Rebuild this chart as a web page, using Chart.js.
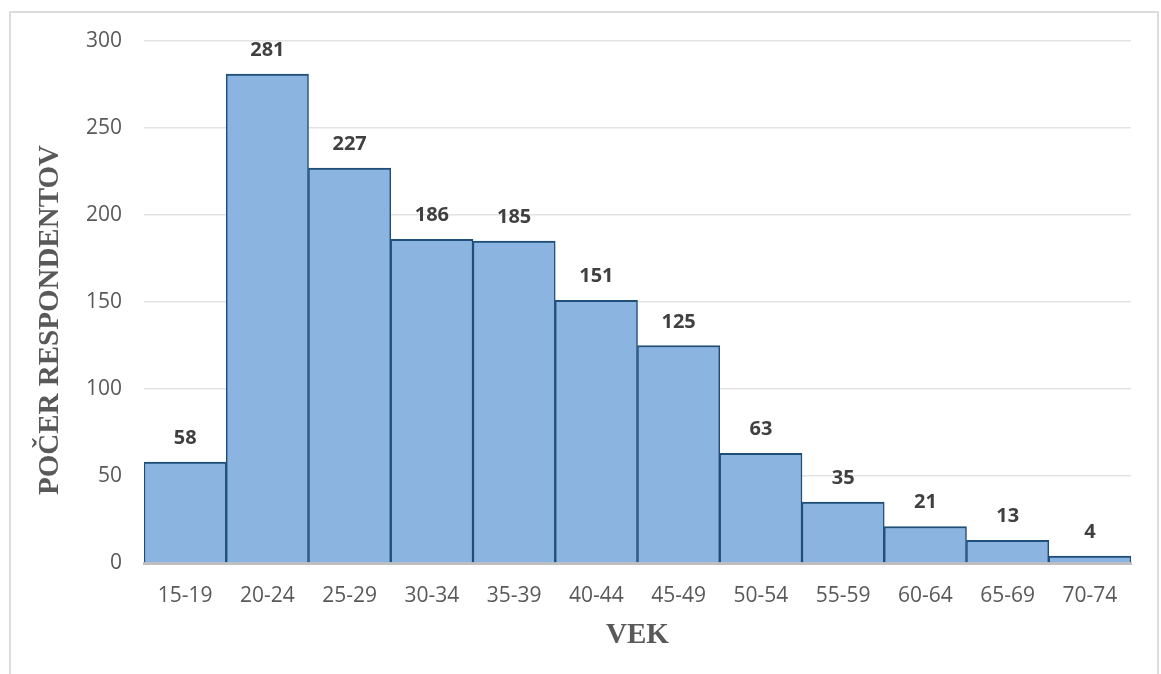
<!DOCTYPE html>
<html lang="sk">
<head>
<meta charset="utf-8">
<title>Počet respondentov podľa veku</title>
<script src="https://cdn.jsdelivr.net/npm/chart.js@4/dist/chart.umd.min.js"></script>
<style>
  html, body { margin: 0; padding: 0; background: #ffffff; }
  #wrap { position: relative; width: 1161px; height: 674px; overflow: hidden; }
  #chart { position: absolute; left: 0; top: 0; }
  #frame {
    position: absolute; left: 9px; top: 11px; width: 1146px; height: 720px;
    border: 2px solid #dcdcdc; pointer-events: none;
  }
</style>
</head>
<body>
<div id="wrap">
  <canvas id="chart" width="1161" height="674"></canvas>
  <div id="frame"></div>
</div>
<script>
// Age groups and respondent counts
const ageGroups = ['15-19', '20-24', '25-29', '30-34', '35-39', '40-44', '45-49', '50-54', '55-59', '60-64', '65-69', '70-74'];
const respondents = [58, 281, 227, 186, 185, 151, 125, 63, 35, 21, 13, 4];
const yTicks = [0, 50, 100, 150, 200, 250, 300];

const xTitle = 'VEK';
const yTitle = 'POČER RESPONDENTOV';

const tickFont = { family: '"Open Sans", sans-serif', size: 21 };
const titleFont = 'bold 29px "Liberation Serif", "Times New Roman", serif';

// Value labels above each bar
const barValueLabels = {
  id: 'barValueLabels',
  afterDatasetsDraw(chart) {
    const { ctx } = chart;
    const meta = chart.getDatasetMeta(0);
    ctx.save();
    ctx.font = 'bold 20px "Open Sans", sans-serif';
    ctx.fillStyle = '#404040';
    ctx.textAlign = 'center';
    ctx.textBaseline = 'alphabetic';
    meta.data.forEach((bar, i) => {
      ctx.fillText(String(chart.data.datasets[0].data[i]), bar.x, bar.y - 18);
    });
    ctx.restore();
  }
};

// Axis titles in bold serif
const axisTitles = {
  id: 'axisTitles',
  afterDraw(chart) {
    const { ctx, chartArea } = chart;
    ctx.save();
    ctx.font = titleFont;
    ctx.fillStyle = '#595959';
    ctx.textAlign = 'center';
    ctx.textBaseline = 'middle';
    ctx.fillText(xTitle, (chartArea.left + chartArea.right) / 2, 636);
    ctx.translate(51, 320);
    ctx.rotate(-Math.PI / 2);
    ctx.fillText(yTitle, 0, 0);
    ctx.restore();
  }
};

new Chart(document.getElementById('chart'), {
  type: 'bar',
  data: {
    labels: ageGroups,
    datasets: [{
      data: respondents,
      backgroundColor: '#8cb4e0',
      borderColor: '#1f4e79',
      borderWidth: { top: 2, left: 1.5, right: 1.5, bottom: 0 },
      borderSkipped: false,
      categoryPercentage: 1.0,
      barPercentage: 1.0
    }]
  },
  options: {
    responsive: false,
    animation: false,
    events: [],
    layout: { padding: { left: 0, right: 30, top: 41, bottom: 0 } },
    plugins: {
      legend: { display: false },
      tooltip: { enabled: false },
      title: { display: false }
    },
    scales: {
      x: {
        grid: { display: false, drawTicks: false },
        border: { display: true, color: '#bfbfbf', width: 3 },
        ticks: { color: '#595959', font: tickFont, padding: 20, maxRotation: 0, autoSkip: false },
        afterFit(scale) { scale.height = 111; }
      },
      y: {
        min: 0,
        max: 300,
        afterBuildTicks(scale) { scale.ticks = yTicks.map(v => ({ value: v })); },
        grid: { color: '#e3e3e3', lineWidth: 1.5, drawTicks: false },
        border: { display: false },
        ticks: { color: '#595959', font: tickFont, padding: 22 },
        afterFit(scale) { scale.width = 144; }
      }
    }
  },
  plugins: [barValueLabels, axisTitles]
});
</script>
</body>
</html>
